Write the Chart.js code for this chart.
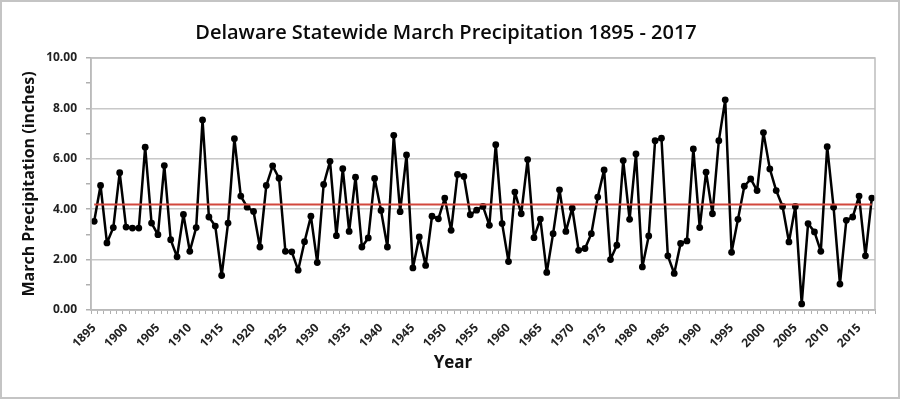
<!DOCTYPE html>
<html>
<head>
<meta charset="utf-8">
<script src="https://cdn.jsdelivr.net/npm/chart.js@4/dist/chart.umd.min.js"></script>
<style>
  html, body { margin: 0; padding: 0; background: #fff; }
  #wrap { width: 900px; height: 399px; }
</style>
</head>
<body>
<div id="wrap"><canvas id="precipChart" width="900" height="399"></canvas></div>
<script>
// March precipitation (inches), 1895 - 2017
const firstYear = 1895;
const lastYear = 2017;
const years = [];
for (let y = firstYear; y <= lastYear; y++) years.push(String(y));

const precip = [
  3.52, 4.94, 2.66, 3.27, 5.45, 3.29, 3.25, 3.25, 6.46, 3.45,
  2.99, 5.73, 2.79, 2.11, 3.79, 2.33, 3.27, 7.54, 3.69, 3.33,
  1.37, 3.45, 6.80, 4.52, 4.08, 3.91, 2.50, 4.94, 5.72, 5.23,
  2.33, 2.31, 1.58, 2.71, 3.72, 1.88, 4.98, 5.90, 2.95, 5.61,
  3.12, 5.27, 2.50, 2.86, 5.22, 3.95, 2.50, 6.93, 3.90, 6.15,
  1.67, 2.90, 1.77, 3.72, 3.62, 4.44, 3.16, 5.38, 5.30, 3.78,
  3.96, 4.11, 3.36, 6.56, 3.43, 1.92, 4.68, 3.82, 5.97, 2.87,
  3.61, 1.49, 3.03, 4.77, 3.12, 4.04, 2.37, 2.44, 3.03, 4.48,
  5.56, 2.00, 2.57, 5.93, 3.60, 6.19, 1.71, 2.94, 6.72, 6.82,
  2.15, 1.45, 2.64, 2.74, 6.39, 3.27, 5.47, 3.82, 6.72, 8.34,
  2.29, 3.60, 4.91, 5.20, 4.74, 7.04, 5.60, 4.74, 4.11, 2.70,
  4.11, 0.24, 3.43, 3.10, 2.33, 6.48, 4.08, 1.03, 3.56, 3.69,
  4.52, 2.15, 4.44
];

// long-term mean shown as the red line
const meanPrecip = 4.19;

const xTickLabels = ['1895', '1900', '1905', '1910', '1915', '1920', '1925', '1930',
  '1935', '1940', '1945', '1950', '1955', '1960', '1965', '1970', '1975', '1980',
  '1985', '1990', '1995', '2000', '2005', '2010', '2015'];
const yTickLabels = ['0.00', '2.00', '4.00', '6.00', '8.00', '10.00'];

const fontFamily = "'Open Sans', sans-serif";
const tickFont = { family: fontFamily, size: 12, weight: 'bold' };

// frame round the picture, plot box, and the x axis title (sits left of centre in the original)
const framePlugin = {
  id: 'frame',
  beforeDraw(chart) {
    const c = chart.ctx;
    c.save();
    c.fillStyle = '#fff';
    c.fillRect(0, 0, chart.width, chart.height);
    c.strokeStyle = '#c4c4c4';
    c.lineWidth = 2;
    c.strokeRect(1, 1, chart.width - 2, chart.height - 2);
    c.restore();
  },
  afterDatasetsDraw(chart) {
    const a = chart.chartArea;
    const c = chart.ctx;
    c.save();
    c.strokeStyle = '#bdbdbd';
    c.lineWidth = 1.5;
    c.strokeRect(a.left, a.top, a.right - a.left, a.bottom - a.top);
    c.restore();
  },
  afterDraw(chart) {
    const c = chart.ctx;
    c.save();
    c.fillStyle = '#111';
    c.font = 'bold 17px ' + fontFamily;
    c.textAlign = 'center';
    c.textBaseline = 'middle';
    c.fillText('Year', chart.width / 2 + 3, 363);
    c.restore();
  }
};

new Chart(document.getElementById('precipChart').getContext('2d'), {
  type: 'line',
  data: {
    labels: years,
    datasets: [{
      label: 'Mean',
      data: years.map(() => meanPrecip),
      borderColor: '#d2473d',
      borderWidth: 2,
      pointRadius: 0,
      order: 0
    }, {
      label: 'March Precipitation',
      data: precip,
      borderColor: '#000',
      backgroundColor: '#000',
      borderWidth: 2.5,
      borderJoinStyle: 'round',
      pointRadius: 3.4,
      pointBorderWidth: 0,
      tension: 0,
      order: 1
    }]
  },
  options: {
    responsive: false,
    animation: false,
    layout: { padding: { left: 17, right: 25, top: 0, bottom: 19 } },
    plugins: {
      legend: { display: false },
      tooltip: { enabled: false },
      title: {
        display: true,
        text: 'Delaware Statewide March Precipitation 1895 - 2017',
        color: '#0a0a0a',
        font: { family: fontFamily, size: 20, weight: '600' },
        padding: { top: 21, bottom: 13 }
      }
    },
    scales: {
      x: {
        offset: true,
        grid: {
          offset: true,
          drawOnChartArea: false,
          drawTicks: true,
          tickLength: 4,
          tickColor: '#b0b0b0'
        },
        border: { color: '#b0b0b0', width: 1.5 },
        ticks: {
          autoSkip: false,
          minRotation: 45,
          maxRotation: 45,
          padding: 7,
          color: '#222',
          font: tickFont,
          callback: function(value) {
            const lbl = this.getLabelForValue(value);
            return xTickLabels.includes(lbl) ? lbl : '';
          }
        },
        afterFit: function(scale) { scale.height = 70; }
      },
      y: {
        min: 0,
        max: 10,
        grid: {
          color: ctx => (ctx.tick && ctx.tick.value % 2 === 0) ? '#c8c8c8' : 'rgba(0,0,0,0)',
          lineWidth: 1.5,
          tickLength: 5,
          tickColor: '#b0b0b0'
        },
        border: { color: '#b0b0b0', width: 1.5 },
        ticks: {
          stepSize: 1,
          padding: 9,
          color: '#222',
          font: tickFont,
          callback: function(value) {
            const lbl = value.toFixed(2);
            return yTickLabels.includes(lbl) ? lbl : '';
          }
        },
        title: {
          display: true,
          text: 'March Precipitation (inches)',
          color: '#111',
          font: { family: fontFamily, size: 16, weight: 'bold' },
          padding: { top: 3, bottom: 4 }
        },
        afterFit: function(scale) { scale.width = 74; }
      }
    }
  },
  plugins: [framePlugin]
});
</script>
</body>
</html>
